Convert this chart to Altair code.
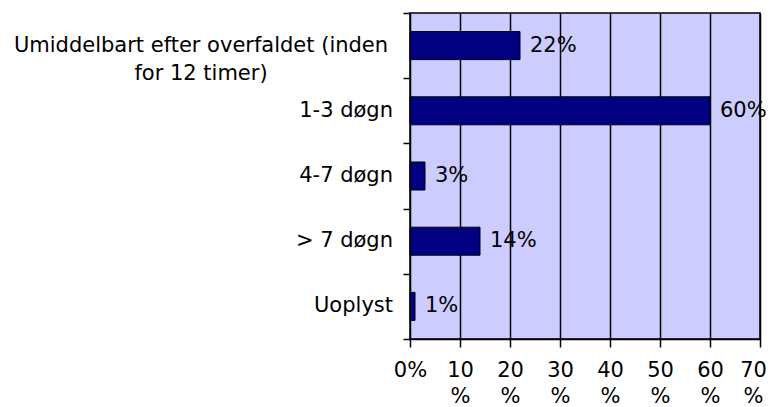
import altair as alt
import pandas as pd

categories = [
    "Umiddelbart efter overfaldet (inden for 12 timer)",
    "1-3 døgn",
    "4-7 døgn",
    "> 7 døgn",
    "Uoplyst",
]
display_labels = [
    "Umiddelbart efter overfaldet (inden\nfor 12 timer)",
    "1-3 døgn",
    "4-7 døgn",
    "> 7 døgn",
    "Uoplyst",
]
values = [22, 60, 3, 14, 1]
x_ticks = [0, 10, 20, 30, 40, 50, 60, 70]

df = pd.DataFrame({
    "cat": categories,
    "lab": display_labels,
    "val": values,
    "txt": [f"{v}%" for v in values],
    "first": [i == 0 for i in range(len(categories))],
})

FONT = "DejaVu Sans"
FS = 21

y_enc = alt.Y("cat:N", sort=categories,
              scale=alt.Scale(paddingInner=0, paddingOuter=0),
              axis=alt.Axis(title=None, labels=False, tickBand="extent",
                            tickSize=7, tickColor="black", tickWidth=1.5,
                            domain=False, grid=False))
x_enc = alt.X("val:Q",
              scale=alt.Scale(domain=[0, 70], nice=False),
              axis=alt.Axis(title=None, values=x_ticks, grid=True,
                            gridColor="black", gridWidth=1.5, gridOpacity=1,
                            tickSize=8, tickColor="black", tickWidth=1.5,
                            domainColor="black", domainWidth=1.5,
                            labelFont=FONT, labelFontSize=FS, labelColor="black",
                            labelFlush=False, labelOverlap=False,
                            labelPadding=12, labelLineHeight=26,
                            labelOffset={"condition": {"test": "datum.value == 70", "value": -7}, "value": 0},
                            labelExpr="datum.value == 0 ? '0%' : [datum.value + '', '%']"))

base = alt.Chart(df)

bars = base.mark_bar(size=28, color="#000080", stroke="black", strokeWidth=1).encode(
    x=x_enc, y=y_enc)

vals = base.mark_text(align="left", baseline="middle", dx=10, font=FONT,
                      fontSize=FS, color="black").encode(
    x="val:Q", y=alt.Y("cat:N", sort=categories), text="txt:N")

ylab_rest = base.transform_filter("!datum.first").mark_text(
    align="right", baseline="middle", font=FONT, fontSize=FS, color="black",
    lineBreak="\n").encode(
    x=alt.value(-17), y=alt.Y("cat:N", sort=categories), text="lab:N")

ylab_first = base.transform_filter("datum.first").mark_text(
    align="center", baseline="middle", font=FONT, fontSize=FS, color="black",
    lineBreak="\n", lineHeight=28).encode(
    x=alt.value(-209), y=alt.Y("cat:N", sort=categories), text="lab:N")

chart = alt.layer(bars, vals, ylab_rest, ylab_first).properties(
    width=350, height=326,
    autosize=alt.AutoSizeParams(type="none"),
    padding={"left": 402, "top": 5, "right": 7, "bottom": 70},
).configure_view(
    fill="#CCCCFF", stroke="black", strokeWidth=1.5
)

chart.save("out.html", embed_options={"renderer": "svg", "actions": False})
